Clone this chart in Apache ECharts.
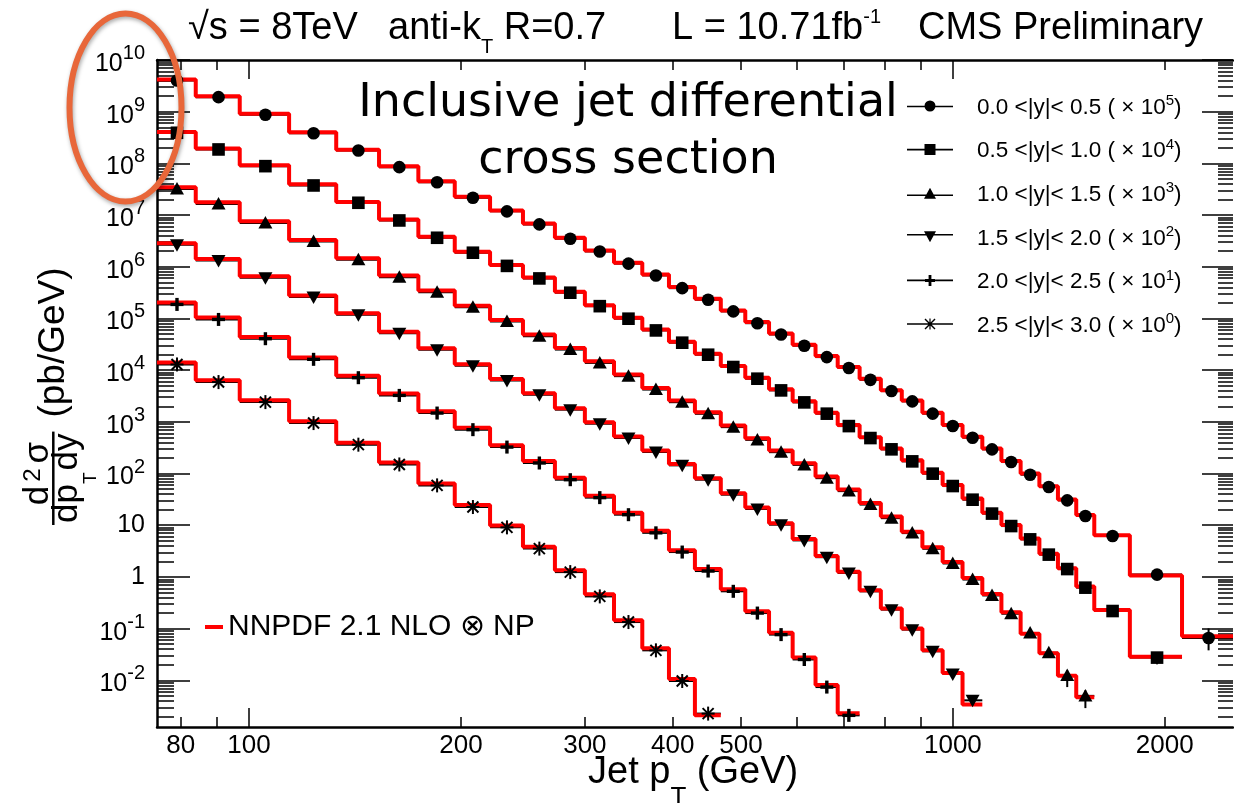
<!DOCTYPE html>
<html><head><meta charset="utf-8">
<script src="https://cdn.jsdelivr.net/npm/echarts@6/dist/echarts.min.js"></script>
<style>html,body{margin:0;padding:0;background:#fff}#c{width:1234px;height:803px}</style>
</head><body><div id="c"></div>
<script>
// ---------- data ----------
const ptEdges = [74,84,97,114,133,153,174,196,220,245,272,300,330,362,395,430,468,507,548,592,638,686,737,790,846,905,967,1032,1101,1172,1248,1327,1410,1497,1588,1784,2116,2500];
const rapidityLabels = ['0.0 <|y|< 0.5','0.5 <|y|< 1.0','1.0 <|y|< 1.5','1.5 <|y|< 2.0','2.0 <|y|< 2.5','2.5 <|y|< 3.0'];
const scaleExponents = [5,4,3,2,1,0];
const theoryName = 'NNPDF 2.1 NLO ⊗ NP';

const dataY1 = [4.0e9,1.91e9,8.7e8,3.84e8,1.78e8,8.45e7,4.33e7,2.16e7,1.18e7,6.6e6,3.49e6,1.98e6,1.15e6,6.8e5,3.86e5,2.30e5,1.37e5,8.1e4,4.9e4,2.97e4,1.79e4,1.10e4,6.5e3,3.94e3,2.49e3,1.44e3,830,494,294,167,95,55,30.3,15.1,6.2,1.11,0.066];
const dataY2 = [3.91e8,1.86e8,8.84e7,3.74e7,1.73e7,7.87e6,3.64e6,1.87e6,1.04e6,5.95e5,3.15e5,1.73e5,9.9e4,5.87e4,3.4e4,1.99e4,1.15e4,6.84e3,4.06e3,2.38e3,1.44e3,828,486,294,172,99.5,57.3,31.2,16.8,9.64,5.33,2.70,1.42,0.62,0.219,0.0275];
const dataY3 = [3.2e7,1.64e7,7.05e6,3.07e6,1.36e6,6.28e5,3.22e5,1.65e5,8.7e4,4.54e4,2.5e4,1.38e4,7.65e3,4.21e3,2.4e3,1.43e3,790,448,259,147,81.4,45.7,25.1,13.7,7.04,3.5,1.82,0.89,0.438,0.194,0.082,0.0341,0.0124,0.0050];
const dataY4 = [2.66e6,1.32e6,6.13e5,2.6e5,1.18e5,5.18e4,2.48e4,1.22e4,6.33e3,3.35e3,1.72e3,920,487,261,144,76,39,20.6,10.25,5.09,2.41,1.19,0.526,0.233,0.0956,0.0364,0.0133,0.0041];
const dataY5 = [1.87e5,9.58e4,4.06e4,1.62e4,7.15e3,3.25e3,1.48e3,706,325,160,76,34.2,16,7.13,3.03,1.30,0.527,0.200,0.0766,0.0253,0.0074,0.0021];
const dataY6 = [1.29e4,5.88e3,2.41e3,947,362,150,59,22.5,9.1,3.53,1.24,0.42,0.134,0.038,0.0097,0.00227];

const theoryY1 = [4.2e9,2.0e9,9.1e8,4.0e8,1.83e8,8.8e7,4.5e7,2.25e7,1.23e7,6.85e6,3.65e6,2.07e6,1.2e6,7.1e5,4.05e5,2.4e5,1.43e5,8.5e4,5.1e4,3.1e4,1.87e4,1.15e4,6.85e3,4.1e3,2.6e3,1.5e3,870,515,305,175,100,57,31.5,15.8,6.4,1.07,0.071];
const theoryY2 = [4.05e8,1.94e8,9.2e7,3.95e7,1.80e7,8.2e6,3.82e6,1.95e6,1.08e6,6.2e5,3.3e5,1.81e5,1.03e5,6.1e4,3.55e4,2.08e4,1.2e4,7.1e3,4.25e3,2.5e3,1.5e3,865,505,305,180,104,60,32.8,17.5,10.1,5.55,2.82,1.48,0.65,0.228,0.0285];
const theoryY3 = [3.45e7,1.77e7,7.6e6,3.3e6,1.46e6,6.75e5,3.46e5,1.77e5,9.35e4,4.88e4,2.69e4,1.48e4,8.2e3,4.5e3,2.58e3,1.53e3,850,482,278,158,87.5,49,27,14.7,7.5,3.75,1.95,0.95,0.468,0.207,0.080,0.0335,0.0122,0.0047];
const theoryY4 = [2.85e6,1.41e6,6.55e5,2.77e5,1.26e5,5.53e4,2.65e4,1.3e4,6.76e3,3.58e3,1.83e3,983,520,279,153,81,41.6,22,10.9,5.4,2.55,1.26,0.555,0.245,0.1,0.038,0.0138,0.0034];
const theoryY5 = [2.04e5,1.04e5,4.4e4,1.76e4,7.8e3,3.55e3,1.61e3,770,354,174,83,37.3,17.5,7.8,3.3,1.42,0.575,0.218,0.083,0.0275,0.0081,0.0023];
const theoryY6 = [1.41e4,6.4e3,2.63e3,1.03e3,394,164,64.5,24.5,9.9,3.85,1.35,0.46,0.146,0.0415,0.0106,0.0021];

// vertical error bars that are visible: [series, bin, low, high]
const yErrBars = [[0,36,0.038,0.101],[1,35,0.0204,0.0353],[2,32,0.0074,0.0156],[2,33,0.0029,0.0064]];

const xLabelValues = [80,100,200,300,400,500,1000,2000];
const xMajorTicks = [100,1000];
const xMinorTicks = [80,90,200,300,400,500,600,700,800,900,2000];
const yLabelValues = [1e-2,1e-1,1,10,1e2,1e3,1e4,1e5,1e6,1e7,1e8,1e9,1e10];

// ---------- setup ----------
const X_MIN = 74, X_MAX = 2500, Y_MIN = 1.25e-3, Y_MAX = 1e10;
const dataSets = [dataY1,dataY2,dataY3,dataY4,dataY5,dataY6];
const theorySets = [theoryY1,theoryY2,theoryY3,theoryY4,theoryY5,theoryY6];
const markerKinds = ['circle','square','triUp','triDown','plus','star'];
const seriesNames = rapidityLabels.map((l,k)=> l + ' (x10^' + scaleExponents[k] + ')');
const yMinorTicks = [];
for (let n=-3;n<=9;n++) for (let k=2;k<=9;k++){ const v=k*Math.pow(10,n); if (v>Y_MIN && v<Y_MAX) yMinorTicks.push(v); }

const FONT = 'Liberation Sans';
const legendIcons = [
  'path://M0 5.2H46V6.8H0Z M17.5 5.5A5.5 5.5 0 1 1 28.5 5.5A5.5 5.5 0 1 1 17.5 5.5Z',
  'path://M0 4.7H46V6.3H0Z M17.5 0H28.5V11H17.5Z',
  'path://M0 6.7H46V8.3H0Z M23 0L29 11H17Z',
  'path://M0 2.7H46V4.3H0Z M17 0H29L23 11Z',
  'path://M0 4.7H46V6.3H0Z M21.6 0H24.4V11H21.6Z M18 4H28V7H18Z',
  'path://M0 4.8H46V6.2H0Z M22.4 0H23.6V11H22.4Z M17.5 1L18.5 0L28.5 10L27.5 11Z M27.5 0L28.5 1L18.5 11L17.5 10Z'
];

function markerEl(kind, x, y) {
  const f = {fill:'#000'};
  switch (kind) {
    case 'circle': return {type:'circle', shape:{cx:x, cy:y, r:6.3}, style:f};
    case 'square': return {type:'rect', shape:{x:x-6.3, y:y-6.3, width:12.6, height:12.6}, style:f};
    case 'triUp': return {type:'polygon', shape:{points:[[x,y-7],[x+7,y+5.5],[x-7,y+5.5]]}, style:f};
    case 'triDown': return {type:'polygon', shape:{points:[[x,y+7],[x+7,y-5.5],[x-7,y-5.5]]}, style:f};
    case 'plus': return {type:'group', children:[
      {type:'rect', shape:{x:x-6.5, y:y-1.7, width:13, height:3.4}, style:f},
      {type:'rect', shape:{x:x-1.7, y:y-6.5, width:3.4, height:13}, style:f}]};
    default: {
      const s = {stroke:'#000', lineWidth:2};
      return {type:'group', children:[
        {type:'line', shape:{x1:x, y1:y-7, x2:x, y2:y+7}, style:s},
        {type:'line', shape:{x1:x-6.5, y1:y, x2:x+6.5, y2:y}, style:s},
        {type:'line', shape:{x1:x-5.5, y1:y-5.5, x2:x+5.5, y2:y+5.5}, style:s},
        {type:'line', shape:{x1:x-5.5, y1:y+5.5, x2:x+5.5, y2:y-5.5}, style:s}]};
    }
  }
}

const series = [];
dataSets.forEach((vals, k) => {
  const rows = vals.map((v,i) => {
    const e = yErrBars.find(r => r[0]===k && r[1]===i);
    return [ptEdges[i], ptEdges[i+1], (ptEdges[i]+ptEdges[i+1])/2, v, e ? e[2] : 0, e ? e[3] : 0];
  });
  series.push({
    type:'custom', name: seriesNames[k], z:2, data: rows, encode:{x:[0,1,2], y:[3]},
    itemStyle:{color:'#000'}, clip:true,
    renderItem: (params, api) => {
      const y = api.value(3);
      const p0 = api.coord([api.value(0), y]), p1 = api.coord([api.value(1), y]);
      return {type:'line', shape:{x1:p0[0], y1:p0[1], x2:p1[0], y2:p1[1]}, style:{stroke:'#000', lineWidth:2}};
    }
  });
  const th = theorySets[k];
  const stepData = th.map((v,i)=>[ptEdges[i], v]);
  stepData.push([ptEdges[th.length], th[th.length-1]]);
  series.push({
    type:'line', name: theoryName, z:3, data: stepData, step:'end', symbol:'none',
    lineStyle:{color:'#ff0000', width:4}, itemStyle:{color:'#ff0000'}, silent:true
  });
  series.push({
    type:'custom', name: seriesNames[k], z:4, data: rows, encode:{x:[0,1,2], y:[3]},
    itemStyle:{color:'#000'}, clip:true,
    renderItem: (params, api) => {
      const c = api.coord([api.value(2), api.value(3)]);
      const children = [];
      const lo = api.value(4), hi = api.value(5);
      if (lo > 0 && hi > 0) {
        const a = api.coord([api.value(2), lo]), b = api.coord([api.value(2), hi]);
        children.push({type:'line', shape:{x1:a[0], y1:a[1], x2:b[0], y2:b[1]}, style:{stroke:'#000', lineWidth:2}});
      }
      children.push(markerEl(markerKinds[k], c[0], c[1]));
      return {type:'group', children};
    }
  });
});

function supLabel(v) {
  const e = Math.round(Math.log10(v));
  if (e === 0) return '{p|1}';
  if (e === 1) return '{p|10}';
  return '{b|10}{s|' + e + '}';
}

const tickLine = {color:'#000', width:1.5};
function xAxisCfg(pos, ticks, len, showLine, showLabels) {
  return {
    type:'log', logBase:10, min:X_MIN, max:X_MAX, position:pos,
    axisLine:{show:showLine, onZero:false, lineStyle:{color:'#000', width:2.5}},
    axisTick:{show:true, inside:true, length:len, customValues:ticks, lineStyle:tickLine},
    axisLabel: showLabels ? {show:true, customValues:xLabelValues, margin:6, color:'#000',
      fontFamily:FONT, fontSize:26, formatter: v => String(Math.round(v))} : {show:false},
    splitLine:{show:false}, minorTick:{show:false}
  };
}
function yAxisCfg(pos, ticks, len, showLine, showLabels) {
  return {
    type:'log', logBase:10, min:Y_MIN, max:Y_MAX, position:pos,
    axisLine:{show:showLine, onZero:false, lineStyle:{color:'#000', width:2.5}},
    axisTick:{show:true, inside:true, length:len, customValues:ticks, lineStyle:tickLine},
    axisLabel: showLabels ? {show:true, customValues:yLabelValues, margin:12, color:'#000',
      fontFamily:FONT, formatter: supLabel,
      rich:{
        p:{fontSize:25, lineHeight:25, fontFamily:FONT, color:'#000'},
        b:{fontSize:25, lineHeight:25, fontFamily:FONT, color:'#000', padding:[8,0,0,0]},
        s:{fontSize:20, lineHeight:20, fontFamily:FONT, color:'#000', padding:[0,0,13,0]}
      }} : {show:false},
    splitLine:{show:false}, minorTick:{show:false}
  };
}

const legendRich = {
  f:{fontSize:22.5, lineHeight:22, fontFamily:FONT, color:'#000', padding:[3,0,0,19]},
  a:{fontSize:22.5, lineHeight:22, fontFamily:FONT, color:'#000', padding:[3,0,0,0]},
  s:{fontSize:15, lineHeight:15, fontFamily:FONT, color:'#000', padding:[0,0,10,0]}
};

const headRich = {
  h:{fontSize:38, lineHeight:38, fontFamily:FONT, fill:'#000', color:'#000', padding:[14,0,14,0]},
  sb:{fontSize:20, lineHeight:20, fontFamily:FONT, fill:'#000', color:'#000', padding:[42,0,4,0]},
  sp:{fontSize:20, lineHeight:20, fontFamily:FONT, fill:'#000', color:'#000', padding:[12,0,34,0]}
};
function headText(x, text) {
  return {type:'text', x:x, y:28.5, silent:true, style:{text:text, rich:headRich, fill:'#000',
    align:'left', verticalAlign:'middle', textAlign:'left', textVerticalAlign:'middle'}};
}

const option = {
  animation:false,
  backgroundColor:'#fff',
  grid:{left:157, right:1, top:60, bottom:76},
  xAxis:[
    xAxisCfg('bottom', xMajorTicks, 19, true, true),
    xAxisCfg('bottom', xMinorTicks, 10, false, false),
    xAxisCfg('top', xMajorTicks, 19, true, false),
    xAxisCfg('top', xMinorTicks, 10, false, false)
  ],
  yAxis:[
    yAxisCfg('left', yLabelValues, 33, true, true),
    yAxisCfg('left', yMinorTicks, 17, false, false),
    yAxisCfg('right', yLabelValues, 31, false, false),
    yAxisCfg('right', yMinorTicks, 15, false, false)
  ],
  legend:[
    {
      orient:'vertical', left:907, top:93, padding:0, itemGap:17.6,
      itemWidth:46, itemHeight:11, selectedMode:true,
      data: seriesNames.map((n,k)=>({name:n, icon:legendIcons[k], itemStyle:{color:'#000'}})),
      formatter: name => {
        const k = seriesNames.indexOf(name);
        return '{f|' + rapidityLabels[k] + ' ( × 10}{s|' + scaleExponents[k] + '}{a|)}';
      },
      textStyle:{rich:legendRich, color:'#000', fontFamily:FONT, fontSize:22}
    },
    {
      orient:'vertical', left:205, top:612, padding:0, itemWidth:18, itemHeight:4,
      data:[{name:theoryName, icon:'path://M0 0H18V4H0Z', itemStyle:{color:'#ff0000'}}],
      textStyle:{color:'#000', fontFamily:FONT, fontSize:30, lineHeight:30}
    }
  ],
  graphic:[
    headText(188, '{h|√s = 8TeV}'),
    headText(388, '{h|anti-k}{sb|T}{h| R=0.7}'),
    headText(672, '{h|L = 10.71fb}{sp|-1}'),
    headText(918, '{h|CMS Preliminary}'),
    {type:'text', x:628, y:104.1, silent:true, style:{text:'Inclusive jet differential', fill:'#000',
      font:'46px "DejaVu Sans"', align:'center', verticalAlign:'middle', textAlign:'center', textVerticalAlign:'middle'}},
    {type:'text', x:628, y:160.8, silent:true, style:{text:'cross section', fill:'#000',
      font:'46px "DejaVu Sans"', align:'center', verticalAlign:'middle', textAlign:'center', textVerticalAlign:'middle'}},
    {type:'text', x:588, y:772.2, silent:true, style:{text:'{b|Jet p}{t|T}{b| (GeV)}', fill:'#000',
      align:'left', verticalAlign:'middle', textAlign:'left', textVerticalAlign:'middle',
      rich:{
        b:{fontSize:38, lineHeight:38, fontFamily:FONT, fill:'#000', color:'#000', padding:[22,0,22,0]},
        t:{fontSize:26, lineHeight:26, fontFamily:FONT, fill:'#000', color:'#000', padding:[54,0,2,0]}
      }}},
    {type:'group', x:53.3, y:478.3, rotation:Math.PI/2, silent:true, children:[
      {type:'line', shape:{x1:-46.7, y1:0, x2:46.7, y2:0}, style:{stroke:'#000', lineWidth:2.5}},
      {type:'text', x:4.8, y:-15, style:{text:'{n|d}{s|2}{n|σ}', fill:'#000',
        align:'center', verticalAlign:'middle', textAlign:'center', textVerticalAlign:'middle',
        rich:{
          n:{fontSize:35, lineHeight:35, fontFamily:FONT, fill:'#000', color:'#000', padding:[8,0,8,0]},
          s:{fontSize:24, lineHeight:24, fontFamily:FONT, fill:'#000', color:'#000', padding:[9,5,18,4]}
        }}},
      {type:'text', x:0, y:14.5, style:{text:'{d|dp}{t|T}{d|dy}', fill:'#000',
        align:'center', verticalAlign:'middle', textAlign:'center', textVerticalAlign:'middle',
        rich:{
          d:{fontSize:35, lineHeight:35, fontFamily:FONT, fill:'#000', color:'#000', padding:[30,0,30,0]},
          t:{fontSize:19, lineHeight:19, fontFamily:FONT, fill:'#000', color:'#000', padding:[61,2,15,0]}
        }}},
      {type:'text', x:135.8, y:0, style:{text:'(pb/GeV)', fill:'#000', font:'37px "Liberation Sans"',
        align:'center', verticalAlign:'middle', textAlign:'center', textVerticalAlign:'middle'}}
    ]},
    {type:'ellipse', silent:true, z:100, shape:{cx:125.5, cy:107.5, rx:56, ry:94},
      style:{fill:null, stroke:'#E8673A', lineWidth:6, shadowBlur:4, shadowColor:'rgba(0,0,0,0.35)', shadowOffsetX:1, shadowOffsetY:2}}
  ],
  series: series
};

const chart = echarts.init(document.getElementById('c'), null, {renderer:'canvas'});
chart.setOption(option);
</script>
</body></html>
